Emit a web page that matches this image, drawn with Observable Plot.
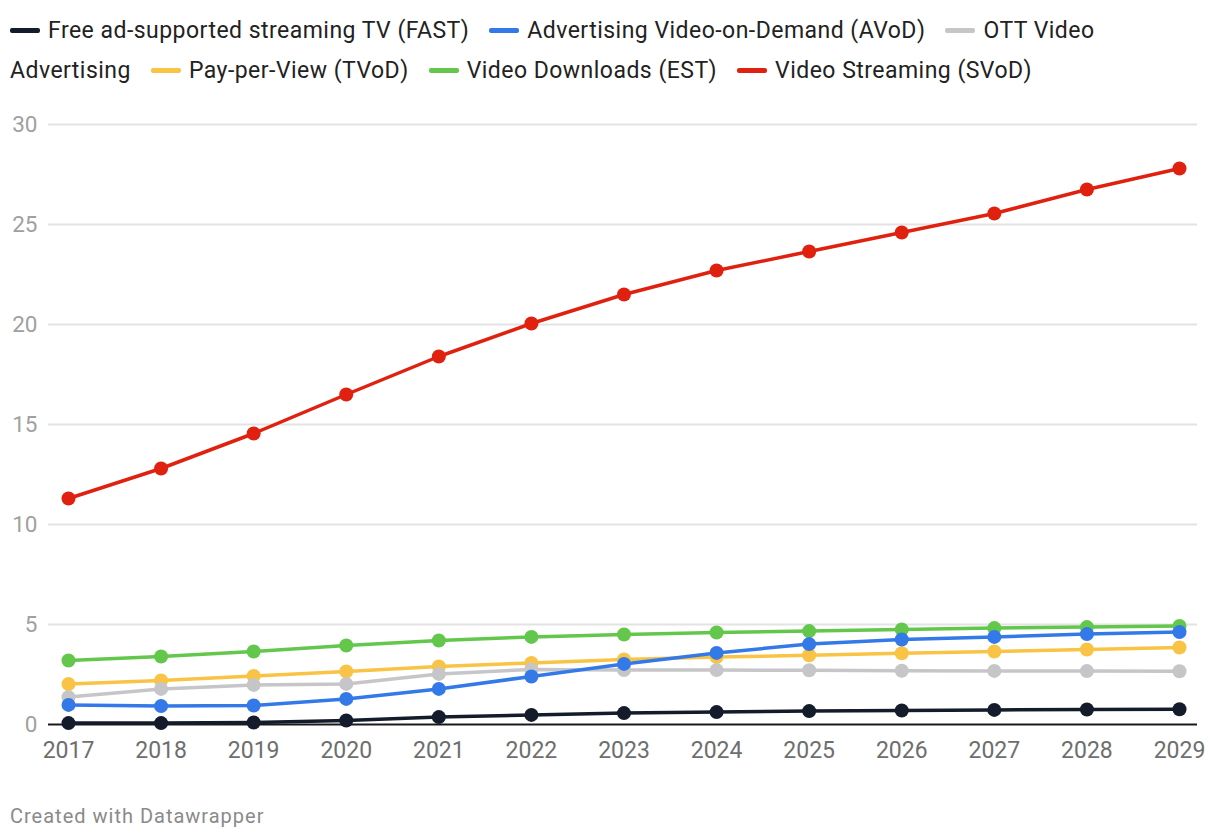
<!DOCTYPE html>
<html>
<head>
<meta charset="utf-8">
<script src="https://cdn.jsdelivr.net/npm/d3@7"></script>
<script src="https://cdn.jsdelivr.net/npm/@observablehq/plot@0.6"></script>
<style>
  html, body { margin: 0; padding: 0; background: #fff; }
  body { width: 1220px; height: 840px; position: relative; font-family: Roboto, "Noto Sans", sans-serif; overflow: hidden; }
  #legend { position: absolute; left: 10px; top: 11px; width: 1200px; font-size: 23px; letter-spacing: 0.47px; line-height: 40px; color: #222; }
  #legend .sw { display: inline-block; width: 30px; height: 5px; border-radius: 2px; vertical-align: middle; margin-right: 8px; position: relative; top: -1px; }
  #legend .last { margin-right: 20px; }
  #chart { position: absolute; left: 0; top: 100px; }
  #footer { position: absolute; left: 10px; top: 804px; font-size: 20px; letter-spacing: 1px; color: #8a8a8a; }
</style>
</head>
<body>
<div id="legend"></div>
<div id="chart"></div>
<div id="footer">Created with Datawrapper</div>
<script>
const years = [2017, 2018, 2019, 2020, 2021, 2022, 2023, 2024, 2025, 2026, 2027, 2028, 2029];
const seriesNames = [
  "Free ad-supported streaming TV (FAST)",
  "Advertising Video-on-Demand (AVoD)",
  "OTT Video Advertising",
  "Pay-per-View (TVoD)",
  "Video Downloads (EST)",
  "Video Streaming (SVoD)"
];
const seriesColors = ["#141c2b", "#3479e8", "#c6c6c8", "#f9c445", "#63c74c", "#e0210f"];
const fast = [0.07, 0.07, 0.1, 0.2, 0.37, 0.48, 0.57, 0.62, 0.67, 0.7, 0.73, 0.75, 0.76];
const avod = [0.98, 0.92, 0.95, 1.28, 1.78, 2.4, 3.03, 3.58, 4.02, 4.25, 4.38, 4.52, 4.62];
const ott = [1.37, 1.78, 1.98, 2.03, 2.53, 2.75, 2.72, 2.72, 2.71, 2.69, 2.68, 2.67, 2.66];
const tvod = [2.02, 2.2, 2.43, 2.65, 2.9, 3.08, 3.25, 3.37, 3.46, 3.56, 3.65, 3.75, 3.85];
const est = [3.2, 3.4, 3.65, 3.95, 4.2, 4.38, 4.5, 4.6, 4.67, 4.75, 4.82, 4.87, 4.93];
const svod = [11.3, 12.8, 14.55, 16.5, 18.4, 20.05, 21.5, 22.7, 23.65, 24.6, 25.55, 26.75, 27.8];
const seriesValues = [fast, avod, ott, tvod, est, svod];
const yTicks = [0, 5, 10, 15, 20, 25, 30];

// legend: flat sequence of swatches and word spans so wrapping never creates tall boxes
const legend = document.getElementById("legend");
seriesNames.forEach((name, i) => {
  const sw = document.createElement("span");
  sw.className = "sw";
  sw.style.background = seriesColors[i];
  legend.appendChild(sw);
  const words = name.split(" ");
  words.forEach((w, k) => {
    const t = document.createElement("span");
    t.textContent = w;
    if (k === words.length - 1) t.className = "last";
    legend.appendChild(t);
    if (k < words.length - 1) legend.appendChild(document.createTextNode(" "));
  });
});

// long data table, drawn in reverse legend order (first series on top)
const rows = [];
for (let s = seriesNames.length - 1; s >= 0; s--) {
  years.forEach((yr, j) => rows.push({series: seriesNames[s], year: yr, value: seriesValues[s][j]}));
}

const marks = [
  Plot.gridY(yTicks.filter(d => d > 0), {stroke: "#e3e3e3", strokeOpacity: 1, strokeWidth: 2}),
  Plot.axisY({ticks: yTicks, tickSize: 0, tickPadding: 11, fontSize: 22.5, color: "#a0a0a0", label: null}),
  Plot.axisX({ticks: years, tickSize: 0, tickPadding: 17, fontSize: 23, color: "#6e6e6e", tickFormat: d => String(d), label: null, style: {letterSpacing: "0.3px"}}),
  Plot.ruleY([0], {stroke: "#1a1a1a", strokeWidth: 2, x1: 2017, x2: 2029, insetLeft: -20, insetRight: -18})
];
for (let s = seriesNames.length - 1; s >= 0; s--) {
  const data = rows.filter(r => r.series === seriesNames[s]);
  marks.push(Plot.line(data, {x: "year", y: "value", stroke: seriesColors[s], strokeWidth: 3.5, curve: "linear"}));
  marks.push(Plot.dot(data, {x: "year", y: "value", fill: seriesColors[s], r: 7, stroke: "none"}));
}

const chart = Plot.plot({
  width: 1220,
  height: 680,
  marginLeft: 48,
  marginRight: 23,
  marginTop: 24,
  marginBottom: 56,
  style: {fontFamily: "Roboto, sans-serif", background: "transparent", overflow: "visible"},
  x: {domain: [2017, 2029], insetLeft: 20, insetRight: 18},
  y: {domain: [0, 30]},
  marks
});
document.getElementById("chart").appendChild(chart);
</script>
</body>
</html>
